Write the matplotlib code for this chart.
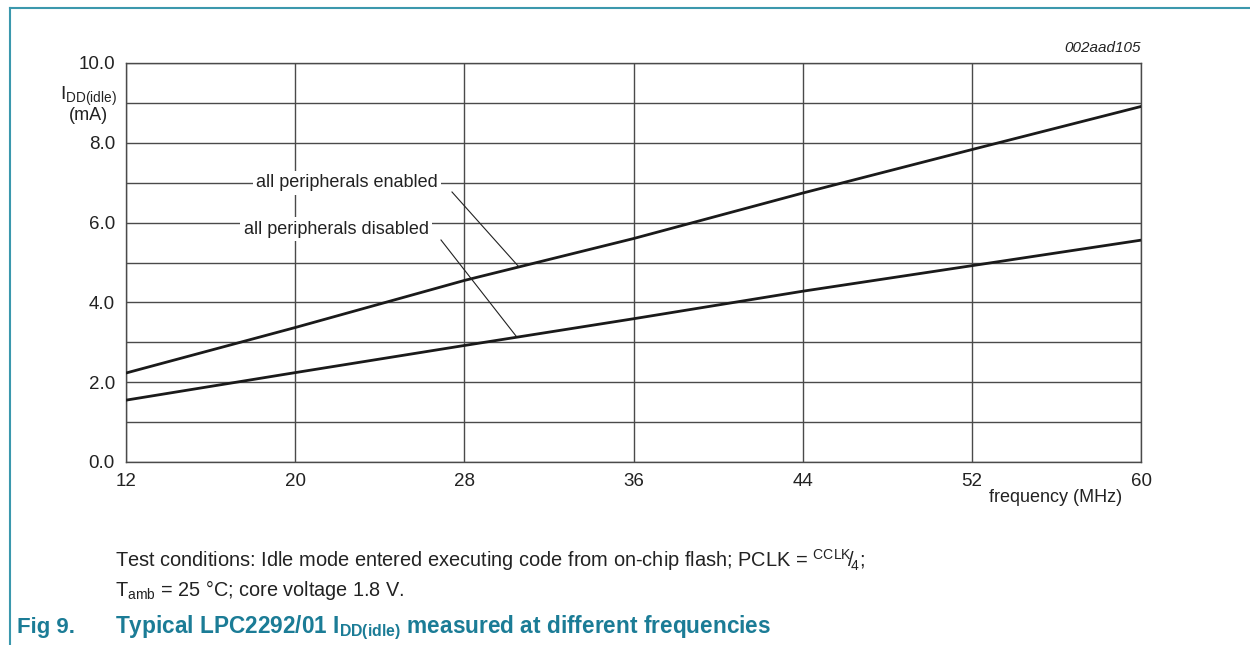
import matplotlib
matplotlib.use("Agg")
import matplotlib.pyplot as plt
from matplotlib.lines import Line2D

plt.rcParams['font.family'] = ['Liberation Sans', 'DejaVu Sans']
plt.rcParams['mathtext.fontset'] = 'custom'
plt.rcParams['mathtext.rm'] = 'Liberation Sans'
plt.rcParams['mathtext.it'] = 'Liberation Sans:italic'
plt.rcParams['mathtext.bf'] = 'Liberation Sans:bold'

# ---- data ----
freq_mhz = [12, 20, 28, 36, 44, 52, 60]
idd_enabled = [2.23, 3.37, 4.55, 5.60, 6.74, 7.83, 8.91]
idd_disabled = [1.55, 2.24, 2.92, 3.59, 4.28, 4.92, 5.56]
x_ticks = [12, 20, 28, 36, 44, 52, 60]
y_ticks = [0.0, 2.0, 4.0, 6.0, 8.0, 10.0]
y_minor = [1, 3, 5, 7, 9]

W, H = 1250, 645
fig = plt.figure(figsize=(12.5, 6.45), dpi=100)
ax = fig.add_axes([126 / W, 1 - 462 / H, (1141 - 126) / W, (462 - 63) / H])

txtc = '#222222'
gridc = '#4a4a4a'
ax.set_xlim(12, 60)
ax.set_ylim(0, 10)
ax.set_xticks(x_ticks)
ax.set_xticklabels([str(v) for v in x_ticks])
ax.set_yticks(y_ticks)
ax.set_yticklabels([f"{v:.1f}" for v in y_ticks])
ax.set_yticks(y_minor, minor=True)
ax.tick_params(axis='both', which='both', length=0, labelsize=13.5, colors=txtc)
ax.tick_params(axis='x', pad=8)
ax.tick_params(axis='y', pad=8)
ax.grid(True, which='both', color=gridc, linewidth=1.0)
ax.set_axisbelow(True)
for s in ax.spines.values():
    s.set_color(gridc)
    s.set_linewidth(1.0)

ax.plot(freq_mhz, idd_enabled, color='#1a1a1a', linewidth=2.0, zorder=3)
ax.plot(freq_mhz, idd_disabled, color='#1a1a1a', linewidth=2.0, zorder=3)

# annotations
bb = dict(facecolor='white', edgecolor='none', pad=2.5)
fig.text(347 / W, 1 - 183 / H, 'all peripherals enabled', ha='center', va='center',
         fontsize=13, color=txtc, bbox=bb, zorder=5)
fig.text(336 / W, 1 - 229 / H, 'all peripherals disabled', ha='center', va='center',
         fontsize=13, color=txtc, bbox=bb, zorder=5)
fig.add_artist(Line2D([452 / W, 519 / W], [1 - 192 / H, 1 - 267 / H], color=txtc, linewidth=0.8))
fig.add_artist(Line2D([441 / W, 516 / W], [1 - 240 / H, 1 - 336 / H], color=txtc, linewidth=0.8))

# axis labels
fig.text(88 / W, 1 - 96 / H, r'I$_{\mathrm{DD(idle)}}$', ha='center', va='center', fontsize=14, color=txtc)
fig.text(88 / W, 1 - 115 / H, '(mA)', ha='center', va='center', fontsize=13, color=txtc)
fig.text(1056 / W, 1 - 497 / H, 'frequency (MHz)', ha='center', va='center', fontsize=13, color=txtc)
fig.text(1141 / W, 1 - 48 / H, '002aad105', ha='right', va='center', fontsize=11,
         style='italic', color=txtc)

# footnotes
fig.text(115 / W, 1 - 560 / H,
         r'Test conditions: Idle mode entered executing code from on-chip flash; PCLK = $^{\mathrm{CCLK}}\!/\!_{4}$;',
         ha='left', va='center', fontsize=14.4, color=txtc)
fig.text(115 / W, 1 - 590 / H, r'T$_{\mathrm{amb}}$ = 25 °C; core voltage 1.8 V.',
         ha='left', va='center', fontsize=14.3, color=txtc)

teal = '#1b7c96'
fig.text(17 / W, 1 - 628 / H, 'Fig 9.', ha='left', va='center', fontsize=16,
         fontweight='bold', color=teal)
fig.text(115 / W, 1 - 628 / H, r'Typical LPC2292/01 I$_{\mathbf{DD(idle)}}$ measured at different frequencies',
         ha='left', va='center', fontsize=16.3, fontweight='bold', color=teal)

# frame
fig.add_artist(Line2D([10 / W, 10 / W], [0, 1 - 8 / H], color='#3b98ad', linewidth=1.5))
fig.add_artist(Line2D([10 / W, 1], [1 - 8 / H, 1 - 8 / H], color='#3b98ad', linewidth=1.5))

fig.savefig('out.png', dpi=100)
